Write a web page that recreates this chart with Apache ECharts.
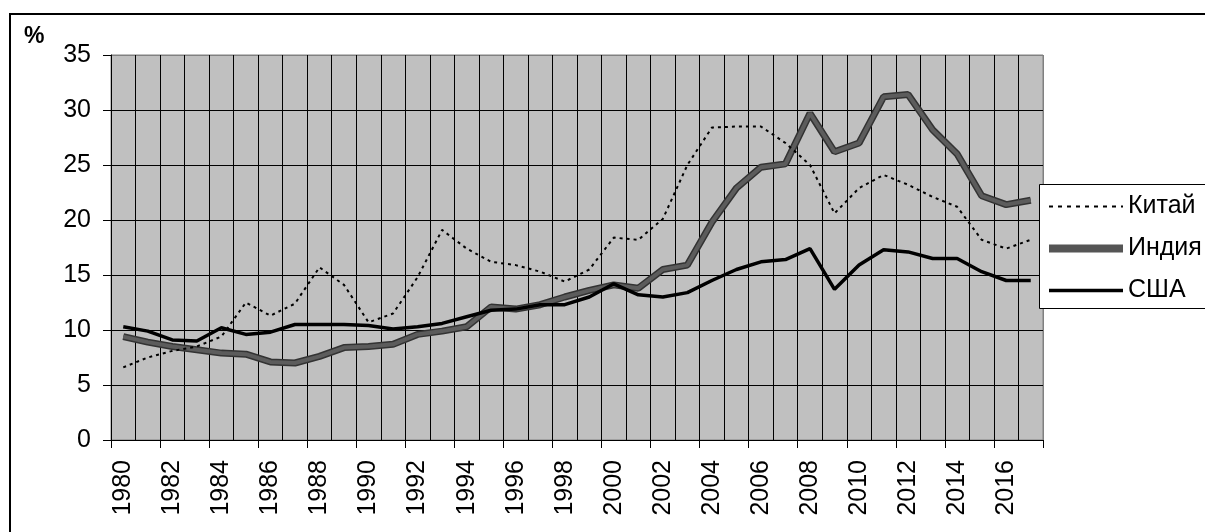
<!DOCTYPE html>
<html>
<head>
<meta charset="utf-8">
<title>Китай, Индия, США</title>
<script src="https://cdn.jsdelivr.net/npm/echarts@6/dist/echarts.min.js"></script>
<style>
  html, body { margin: 0; padding: 0; background: #fff; }
  #mychart { width: 1205px; height: 532px; }
</style>
</head>
<body>
<div id="mychart"></div>
<script>
// годы
const years = ['1980','1981','1982','1983','1984','1985','1986','1987','1988','1989',
  '1990','1991','1992','1993','1994','1995','1996','1997','1998','1999',
  '2000','2001','2002','2003','2004','2005','2006','2007','2008','2009',
  '2010','2011','2012','2013','2014','2015','2016','2017']
// Китай
const china = [6.6, 7.5, 8.1, 8.5, 9.4, 12.5, 11.3, 12.4, 15.7, 14.1,
  10.7, 11.5, 14.8, 19.1, 17.4, 16.2, 15.9, 15.3, 14.4, 15.5,
  18.4, 18.2, 20.1, 25.0, 28.4, 28.5, 28.5, 27.0, 25.0, 20.6,
  22.9, 24.1, 23.2, 22.1, 21.2, 18.2, 17.4, 18.2]
// Индия
const india = [9.4, 8.9, 8.5, 8.2, 7.9, 7.8, 7.1, 7.0, 7.6, 8.4,
  8.5, 8.7, 9.6, 9.9, 10.3, 12.1, 11.9, 12.3, 13.0, 13.6,
  14.1, 13.8, 15.5, 15.9, 19.8, 22.9, 24.8, 25.1, 29.7, 26.2,
  27.0, 31.2, 31.4, 28.2, 26.0, 22.2, 21.4, 21.8]
// США
const usa = [10.3, 9.9, 9.1, 9.0, 10.2, 9.6, 9.8, 10.5, 10.5, 10.5,
  10.4, 10.1, 10.3, 10.6, 11.2, 11.8, 11.9, 12.3, 12.3, 13.0,
  14.2, 13.2, 13.0, 13.4, 14.5, 15.5, 16.2, 16.4, 17.4, 13.7,
  15.9, 17.3, 17.1, 16.5, 16.5, 15.3, 14.5, 14.5]
// деления оси Y
const yTicks = [0, 5, 10, 15, 20, 25, 30, 35]

const font = 'Liberation Sans, Arial, sans-serif'
const myChart = echarts.init(document.getElementById('mychart'))

// цвета линий сетки: верхняя и правая граница области серые
let ySplit = yTicks.map((t, i) => i === yTicks.length - 1 ? '#808080' : '#000')
let xSplit = []
for (let i = 0; i <= years.length; ++i) {
  xSplit.push(i === years.length ? '#808080' : '#000')
}

const options = {
  animation: false,
  backgroundColor: '#fff',
  textStyle: { fontFamily: font },
  grid: {
    left: 111,
    right: 162,
    top: 55,
    bottom: 92,
    show: true,
    backgroundColor: '#c0c0c0',
    borderColor: '#808080',
    borderWidth: 1
  },
  legend: {
    orient: 'vertical',
    left: 1045,
    top: 194,
    z: 20,
    padding: 0,
    itemWidth: 74,
    itemHeight: 14,
    itemGap: 17,
    itemStyle: { opacity: 0 },
    textStyle: { fontFamily: font, fontSize: 25, color: '#000', lineHeight: 25 },
    data: [
      { name: 'Китай', lineStyle: { color: '#000', width: 2, type: [4, 5] } },
      { name: 'Индия', lineStyle: { color: '#555', width: 8 } },
      { name: 'США', lineStyle: { color: '#000', width: 3.5 } }
    ]
  },
  xAxis: {
    type: 'category',
    data: years,
    boundaryGap: true,
    axisLine: { lineStyle: { color: '#000', width: 1 } },
    axisTick: { show: true, length: 8, lineStyle: { color: '#000' } },
    axisLabel: {
      interval: 1,
      rotate: 90,
      margin: 20,
      fontSize: 25,
      color: '#000',
      fontFamily: font
    },
    splitLine: { show: true, interval: 0, lineStyle: { color: xSplit, width: 1 } }
  },
  yAxis: {
    type: 'value',
    min: 0,
    max: 35,
    interval: 5,
    axisLine: { show: true, lineStyle: { color: '#000', width: 1 } },
    axisTick: { show: true, length: 8, lineStyle: { color: '#000' } },
    axisLabel: { margin: 20, fontSize: 25, color: '#000', fontFamily: font },
    splitLine: { show: true, lineStyle: { color: ySplit, width: 1 } }
  },
  graphic: [
    {
      type: 'rect',
      z: -10,
      shape: { x: 10, y: 14, width: 1220, height: 540 },
      style: { fill: 'none', stroke: '#000', lineWidth: 2 }
    },
    {
      type: 'text',
      left: 24,
      top: 25,
      style: { text: '%', font: 'bold 23px ' + font, fill: '#000' }
    },
    {
      type: 'rect',
      z: 6,
      shape: { x: 1039.5, y: 184.5, width: 200, height: 124 },
      style: { fill: '#fff', stroke: '#000', lineWidth: 1 }
    }
  ],
  series: [
    {
      name: 'Китай',
      type: 'line',
      data: china,
      symbol: 'none',
      z: 3,
      lineStyle: { color: '#000', width: 2, type: [3, 4] },
      itemStyle: { color: '#000' }
    },
    {
      name: 'Индия',
      type: 'line',
      data: india,
      symbol: 'none',
      z: 2,
      lineStyle: { color: '#333', width: 7 },
      itemStyle: { color: '#333' }
    },
    {
      name: 'Индия-внутр',
      type: 'line',
      data: india,
      symbol: 'none',
      z: 2,
      silent: true,
      lineStyle: { color: '#5c5c5c', width: 4 }
    },
    {
      name: 'США',
      type: 'line',
      data: usa,
      symbol: 'none',
      z: 4,
      lineStyle: { color: '#000', width: 3.5 },
      itemStyle: { color: '#000' }
    }
  ]
}

myChart.setOption(options)
</script>
</body>
</html>
